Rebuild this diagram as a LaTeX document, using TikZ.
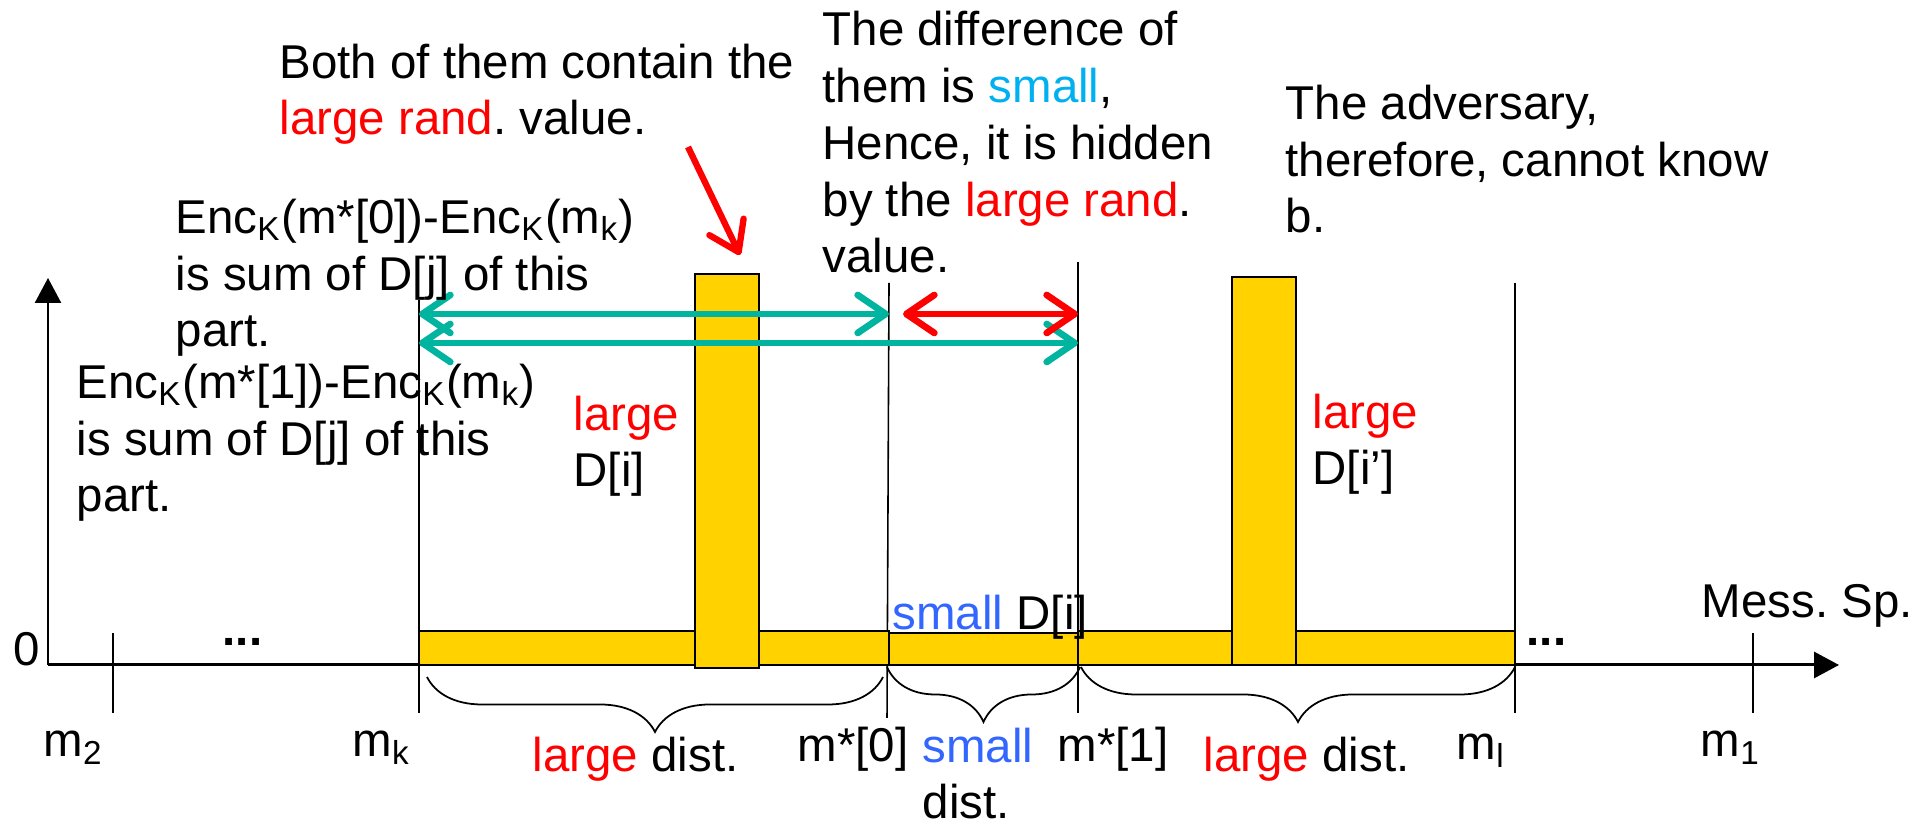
\documentclass[tikz,border=0pt]{standalone}
\usepackage{fontspec}
\setmainfont{Liberation Sans}
\usetikzlibrary{arrows.meta,decorations.pathreplacing}
\definecolor{barfill}{HTML}{FFD200}
\definecolor{tealarr}{HTML}{00B4A0}
\definecolor{pptred}{HTML}{FF0000}
\definecolor{pptblue}{HTML}{3366FF}
\definecolor{pptcyan}{HTML}{00B0F0}
\frenchspacing

\begin{document}
\begin{tikzpicture}[
  tx/.style={inner sep=0pt,anchor=base west,align=left,font=\fontsize{13.5}{16.2}\selectfont},
  bar/.style={draw=black,fill=barfill,line width=0.5pt},
  tk/.style={line width=0.45pt},
  ax/.style={-{Triangle[length=2.5mm,width=2.6mm]}},
  ta/.style={{Straight Barb[length=2.8mm,width=3.8mm,round]}-{Straight Barb[length=2.8mm,width=3.8mm,round]},tealarr,line width=1.9pt},
  ra/.style={{Straight Barb[length=2.8mm,width=3.8mm,round]}-{Straight Barb[length=2.8mm,width=3.8mm,round]},pptred,line width=1.9pt},
  br/.style={decorate,decoration={brace,amplitude=0.55cm,mirror},line width=0.5pt}]
  \useasboundingbox (0,0) rectangle (19.15,8.24);
  % axes
  \coordinate (o) at (0.48,1.59);
  \coordinate (ytop) at (0.48,5.46);
  \coordinate (xend) at (18.39,1.59);
  \draw[ax,line width=0.7pt] (o) -- (ytop);
  \draw[ax,line width=0.85pt] (o) -- (xend);
  % ticks
  \draw[tk] (1.13,1.91) -- (1.13,1.11);
  \draw[tk] (4.19,5.24) -- (4.19,1.11);
  \draw[tk] (8.89,5.41) -- (8.87,1.06);
  \draw[tk] (10.78,5.62) -- (10.78,1.11);
  \draw[tk] (15.15,5.41) -- (15.15,1.11);
  \draw[tk] (17.53,1.91) -- (17.53,1.11);
  % D[i] bars
  \draw[bar] (4.19,1.59) rectangle (8.89,1.93);
  \draw[bar] (8.89,1.59) rectangle (10.78,1.91);
  \draw[bar] (10.78,1.59) rectangle (15.15,1.93);
  \draw[bar] (6.95,1.56) rectangle (7.59,5.50);
  \draw[bar] (12.32,1.59) rectangle (12.96,5.47);
  % braces
  \draw[br] (4.27,1.47) -- (8.83,1.47);
  \draw[br] (8.87,1.57) -- (10.80,1.57);
  \draw[br] (10.81,1.57) -- (15.15,1.57);
  % distances
  \coordinate (a1l) at (4.19,5.10); \coordinate (a1r) at (8.89,5.10);
  \coordinate (a2l) at (4.19,4.81); \coordinate (a2r) at (10.78,4.81);
  \coordinate (rl) at (9.03,5.10); \coordinate (rr) at (10.78,5.10);
  \draw[ta] (a1l) -- (a1r);
  \draw[ta] (a2l) -- (a2r);
  \draw[ra] (rl) -- (rr);
  \coordinate (p0) at (6.88,6.77); \coordinate (p1) at (7.40,5.69);
  \draw[pptred,line width=1.8pt,-{Straight Barb[length=2.8mm,width=3.8mm,round]}] (p0) -- (p1);
  % labels on the axis
  \node[tx] (zero) at (0.13,1.58) {0};
  \node[tx,font=\fontsize{13.5}{16.2}\selectfont\bfseries] (dotl) at (2.22,1.78) {...};
  \node[tx,font=\fontsize{13.5}{16.2}\selectfont\bfseries] (dotr) at (15.26,1.78) {...};
  \node[tx] (lm2) at (0.43,0.67) {m\textsubscript{2}};
  \node[tx] (lmk) at (3.52,0.67) {m\textsubscript{k}};
  \node[tx] (dist1) at (5.32,0.52) {\textcolor{pptred}{large} dist.};
  \node[tx] (lms0) at (7.97,0.62) {m*[0]};
  \node[tx] (dist2) at (9.22,0.05) {\textcolor{pptblue}{small}\\dist.};
  \node[tx] (lms1) at (10.57,0.62) {m*[1]};
  \node[tx] (dist3) at (12.03,0.52) {\textcolor{pptred}{large} dist.};
  \node[tx] (lml) at (14.56,0.64) {m\textsubscript{l}};
  \node[tx] (lm1) at (17.00,0.67) {m\textsubscript{1}};
  \node[tx] (mess) at (17.01,2.06) {Mess. Sp.};
  \node[tx] (sdi) at (8.92,1.94) {\textcolor{pptblue}{small} D[i]};
  \node[tx] (ldi) at (5.73,3.37) {\textcolor{pptred}{large}\\D[i]};
  \node[tx] (ldi2) at (13.12,3.39) {\textcolor{pptred}{large}\\D[i’]};
  % notes
  \node[tx] (enc0) at (1.75,4.77) {Enc\textsubscript{K}(m*[0])-Enc\textsubscript{K}(m\textsubscript{k})\\is sum of D[j] of this\\part.};
  \node[tx] (enc1) at (0.76,3.12) {Enc\textsubscript{K}(m*[1])-Enc\textsubscript{K}(m\textsubscript{k})\\is sum of D[j] of this\\part.};
  \node[tx] (both) at (2.79,6.89) {Both of them contain the\\\textcolor{pptred}{large rand}. value.};
  \node[tx] (diff) at (8.22,5.51) {The difference of\\them is \textcolor{pptcyan}{small},\\Hence, it is hidden\\by the \textcolor{pptred}{large rand}.\\value.};
  \node[tx] (adv) at (12.85,5.91) {The adversary,\\therefore, cannot know\\b.};
\end{tikzpicture}
\end{document}
